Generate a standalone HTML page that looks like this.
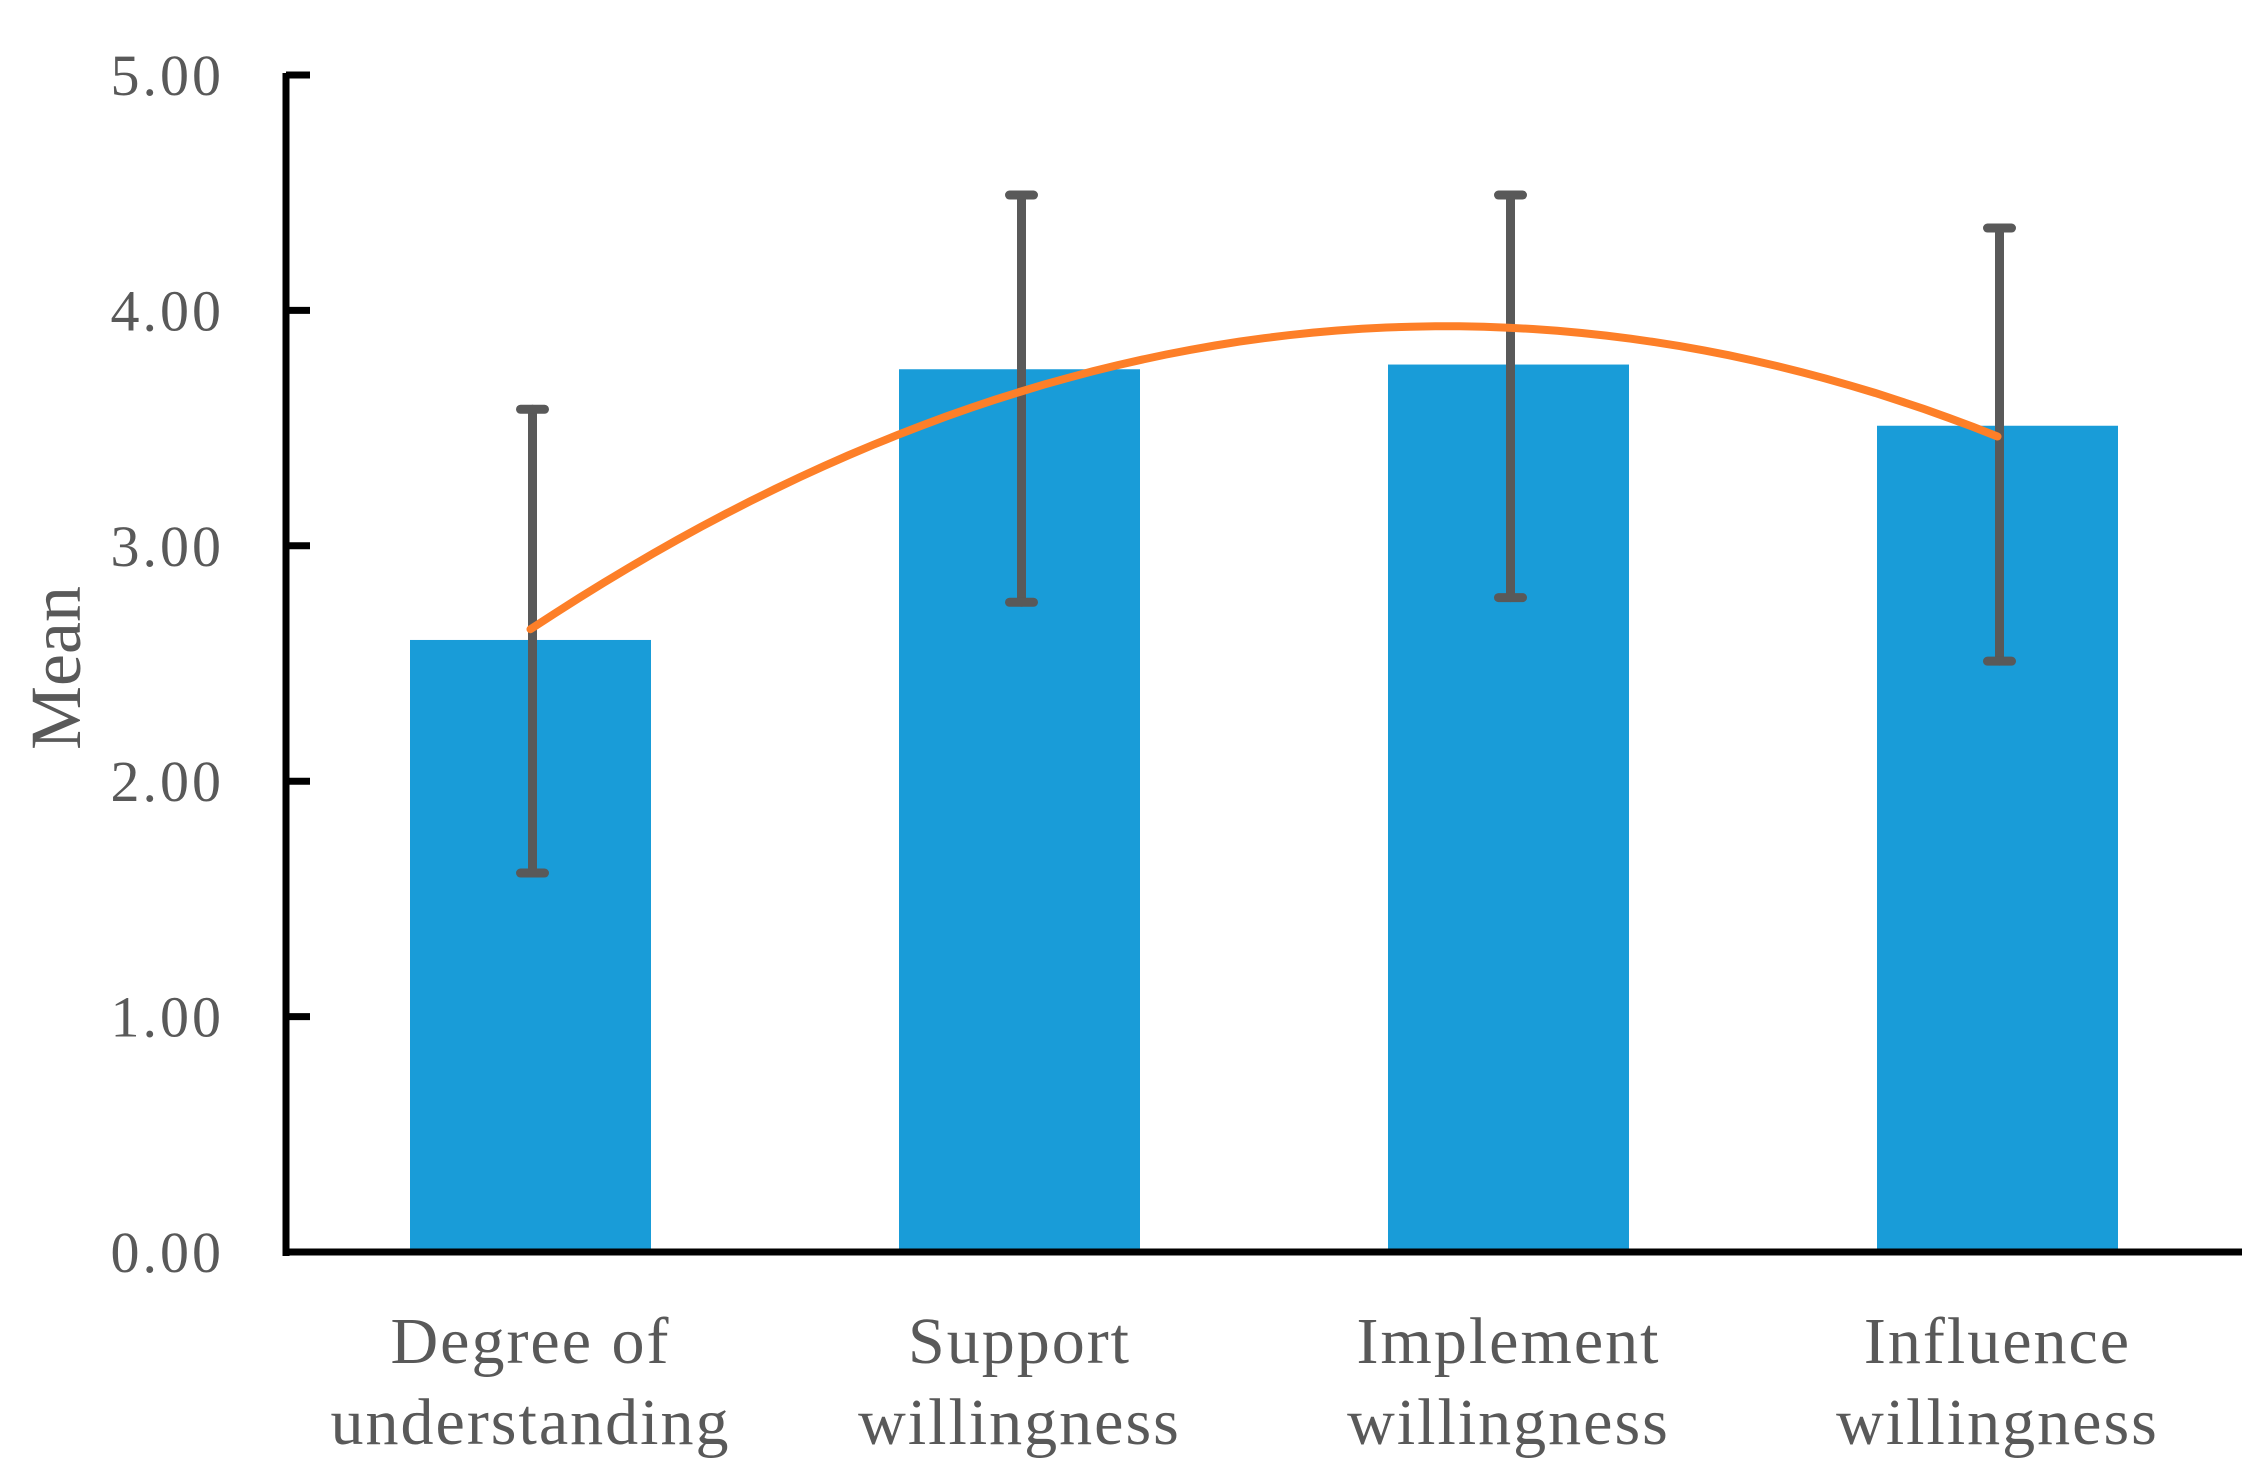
<!DOCTYPE html>
<html><head><meta charset="utf-8"><style>
html,body{margin:0;padding:0;background:#fff;}
svg{display:block;}
text{font-family:"Liberation Serif",serif;fill:#595959;}
</style></head><body>
<svg id="chart" width="2266" height="1480" viewBox="0 0 2266 1480" xmlns="http://www.w3.org/2000/svg">
<g id="bars"></g>
<g id="errs"></g>
<g id="trend"></g>
<g id="axes"></g>
<g id="labels"></g>
</svg>
<script>
const categories = [["Degree of","understanding"],["Support","willingness"],["Implement","willingness"],["Influence","willingness"]];
const means = [2.60, 3.75, 3.77, 3.51];
const errUpper = [3.58, 4.49, 4.49, 4.35];
const errLower = [1.61, 2.76, 2.78, 2.51];
const trendValues = [2.64, 3.67, 3.91, 3.47];
const yTicks = [0, 1, 2, 3, 4, 5];
const yTickLabels = ["0.00","1.00","2.00","3.00","4.00","5.00"];

const NS="http://www.w3.org/2000/svg";
const X0=286, X1=2242, Y0=1252, Y5=75;
const band=(X1-X0)/categories.length;
const xc=i=>X0+band*(i+0.5);
const y=v=>Y0-(Y0-Y5)*v/5;
function mk(tag,attrs,parent){const e=document.createElementNS(NS,tag);for(const k in attrs)e.setAttribute(k,attrs[k]);document.getElementById(parent).appendChild(e);return e;}

const bw=241;
means.forEach((m,i)=>{
  const r=mk('rect',{x:xc(i)-bw/2,y:y(m),width:bw,height:Y0-y(m),fill:'#199cd8'},'bars');
  
  
});
errUpper.forEach((u,i)=>{
  const l=errLower[i], x=xc(i)+2;
  const g=mk('g',{stroke:'#595959','stroke-width':9,'stroke-linecap':'round'},'errs');
  
  
  const a=document.createElementNS(NS,'line');a.setAttribute('x1',x);a.setAttribute('x2',x);a.setAttribute('y1',y(u));a.setAttribute('y2',y(l));g.appendChild(a);
  [u,l].forEach(v=>{const c=document.createElementNS(NS,'line');c.setAttribute('x1',x-12);c.setAttribute('x2',x+12);c.setAttribute('y1',y(v));c.setAttribute('y2',y(v));g.appendChild(c);});
});
(function(){
  const n=trendValues.length;let S=[0,0,0,0,0],T=[0,0,0];
  for(let i=0;i<n;i++){const t=i;for(let k=0;k<5;k++)S[k]+=Math.pow(t,k);for(let k=0;k<3;k++)T[k]+=trendValues[i]*Math.pow(t,k);}
  const M=[[S[0],S[1],S[2],T[0]],[S[1],S[2],S[3],T[1]],[S[2],S[3],S[4],T[2]]];
  for(let c=0;c<3;c++){for(let r=c+1;r<3;r++){const f=M[r][c]/M[c][c];for(let k=c;k<4;k++)M[r][k]-=f*M[c][k];}}
  const co=[0,0,0];for(let r=2;r>=0;r--){let s=M[r][3];for(let k=r+1;k<3;k++)s-=M[r][k]*co[k];co[r]=s/M[r][r];}
  let d='';for(let s=0;s<=60;s++){const t=(n-1)*s/60;const v=co[0]+co[1]*t+co[2]*t*t;d+=(s?'L':'M')+(xc(0)+band*t).toFixed(1)+','+y(v).toFixed(1);}
  const p=mk('path',{d:d,fill:'none',stroke:'#fd7f28','stroke-width':8,'stroke-linecap':'round'},'trend');
  
  
})();
const ya=mk('line',{x1:X0,x2:X0,y1:Y5-2,y2:Y0+4,stroke:'#000','stroke-width':7},'axes');


const xa=mk('line',{x1:X0-3,x2:X1,y1:Y0,y2:Y0,stroke:'#000','stroke-width':7},'axes');


yTicks.forEach((t,i)=>{
  if(t>0){const tk=mk('line',{x1:X0,x2:X0+24,y1:y(t),y2:y(t),stroke:'#000','stroke-width':7},'axes');
  
  }
  const tx=mk('text',{x:224,y:y(t)+20,'text-anchor':'end','font-size':58,'letter-spacing':3},'labels');
  tx.textContent=yTickLabels[i];
  
  
});
categories.forEach((c,i)=>{
  c.forEach((line,j)=>{
    const tx=mk('text',{x:xc(i),y:1363+j*81,'text-anchor':'middle','font-size':66,'letter-spacing':2},'labels');
    tx.textContent=line;
    
    
  });
});
const yt=mk('text',{x:0,y:0,'text-anchor':'middle','font-size':72,transform:'translate(80,668) rotate(-90)'},'labels');
yt.textContent='Mean';


</script>
</body></html>
